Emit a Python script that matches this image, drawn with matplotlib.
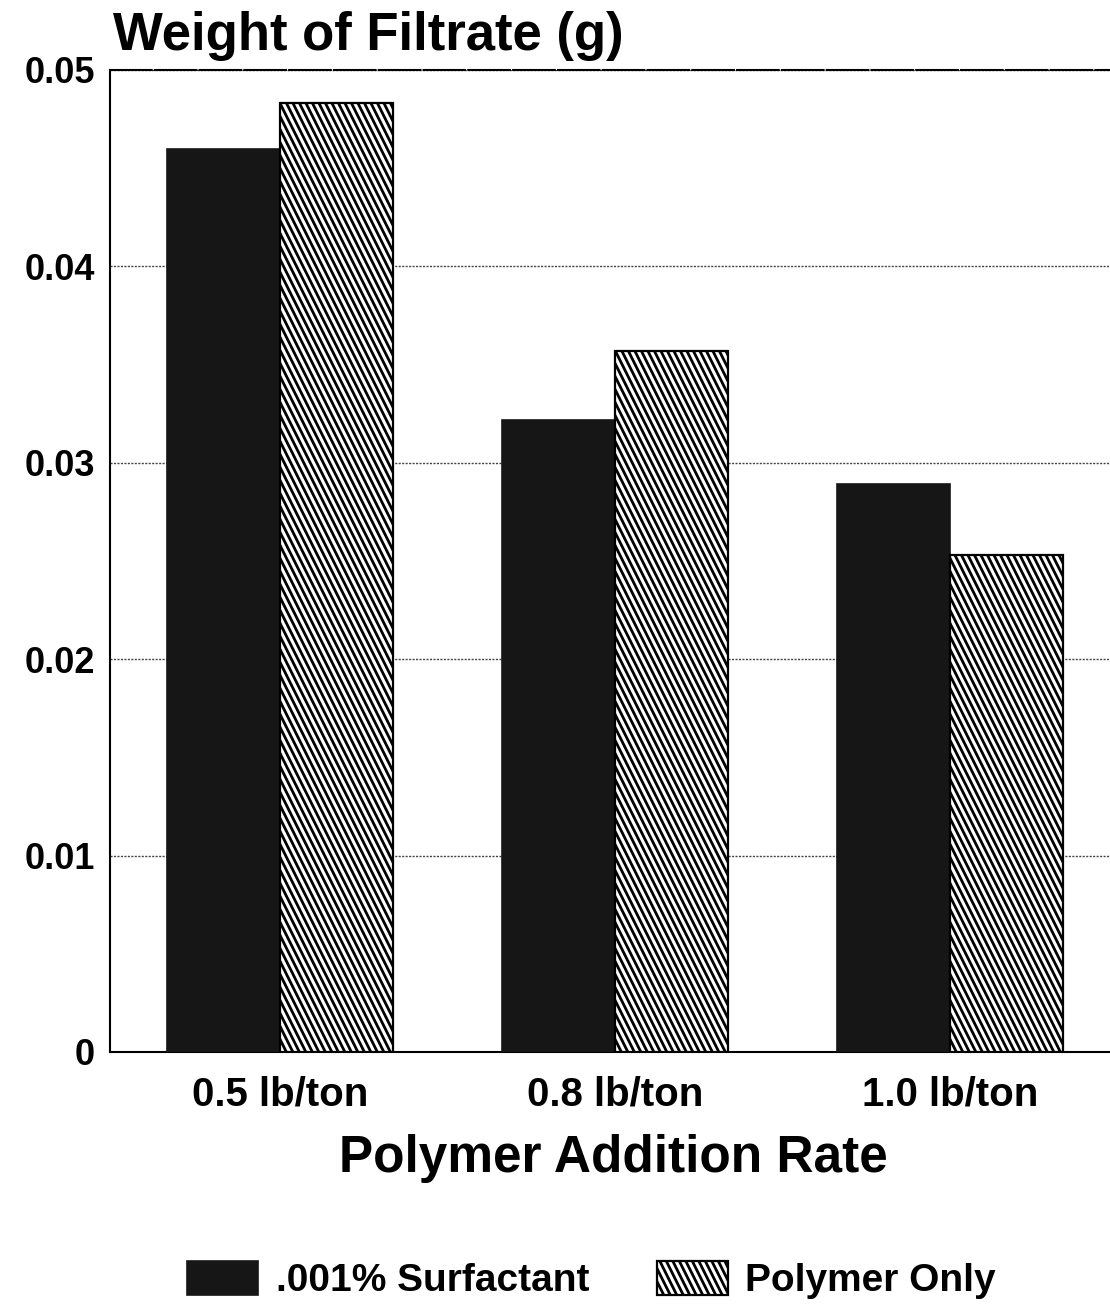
import matplotlib
matplotlib.use("Agg")
import matplotlib.pyplot as plt
from matplotlib.collections import LineCollection
from matplotlib.transforms import IdentityTransform
import numpy as np

categories = ["0.5 lb/ton", "0.8 lb/ton", "1.0 lb/ton"]
surfactant = [0.0460, 0.0322, 0.0289]
polymer_only = [0.0483, 0.0357, 0.0253]
series_names = [".001% Surfactant", "Polymer Only"]
yticks = [0, 0.01, 0.02, 0.03, 0.04, 0.05]
ytick_labels = ["0", "0.01", "0.02", "0.03", "0.04", "0.05"]

plt.rcParams['font.family'] = ['Liberation Sans', 'DejaVu Sans']

fig = plt.figure(figsize=(11.1, 13.05), dpi=100)
ax = fig.add_axes([0.0991, 0.1939, 0.9009, 0.7525])

x = np.arange(len(categories))
w = 0.337
b1 = ax.bar(x - w/2, surfactant, w, color="#161616", edgecolor="#161616", linewidth=1.2,
            label=series_names[0], zorder=3)
b2 = ax.bar(x + w/2, polymer_only, w, color="white", edgecolor="black",
            linewidth=1.6, label=series_names[1], zorder=3)

ax.set_xlim(-0.507, 2.478)
ax.set_ylim(0, 0.05)
ax.set_yticks(yticks)
ax.set_yticklabels(ytick_labels)
ax.set_xticks(x)
ax.set_xticklabels(categories)
ax.tick_params(axis='both', length=0)
ax.tick_params(axis='y', pad=11, labelsize=26)
ax.tick_params(axis='x', pad=17, labelsize=29)
for lab in ax.get_xticklabels() + ax.get_yticklabels():
    lab.set_fontweight('bold')

ax.yaxis.grid(True, linestyle=(0, (1.5, 1)), color="#444444", linewidth=1.0, zorder=0)
ax.set_axisbelow(True)

ax.spines['right'].set_visible(False)
ax.spines['top'].set_linestyle((0, (20, 1.5)))
for s in ['top', 'left', 'bottom']:
    ax.spines[s].set_linewidth(1.5)

fig.text(0.102, 0.9617, "Weight of Filtrate (g)", fontsize=38, fontweight='bold',
         ha='left', va='baseline')
ax.set_xlabel("Polymer Addition Rate", fontsize=37, fontweight='bold')
ax.xaxis.set_label_coords(0.503, -0.084)

leg = fig.legend(handles=[b1, b2], labels=series_names, loc='center',
                 bbox_to_anchor=(0.533, 0.019), ncol=2, frameon=False,
                 prop={'size': 28, 'weight': 'bold'}, handlelength=1.83, handleheight=0.95,
                 columnspacing=1.75, handletextpad=0.44)

fig.canvas.draw()
renderer = fig.canvas.get_renderer()


def steep_hatch(patch, parent, spacing=6.5, slope=2.0, lw=2.0, zorder=3.5):
    bb = patch.get_window_extent(renderer)
    x0, x1, y0, y1 = bb.x0, bb.x1, bb.y0, bb.y1
    h = y1 - y0
    starts = np.arange(x0 - h / slope - spacing, x1 + spacing, spacing)
    segs = [[(u, y1), (u + h / slope, y0)] for u in starts]
    lc = LineCollection(segs, colors='black', linewidths=lw, transform=IdentityTransform(),
                        zorder=zorder)
    parent.add_artist(lc)
    lc.set_clip_path(patch)


for p in b2.patches:
    steep_hatch(p, ax)
steep_hatch(leg.legend_handles[1], fig, zorder=6)

fig.savefig("out.png", dpi=100, facecolor="white")
